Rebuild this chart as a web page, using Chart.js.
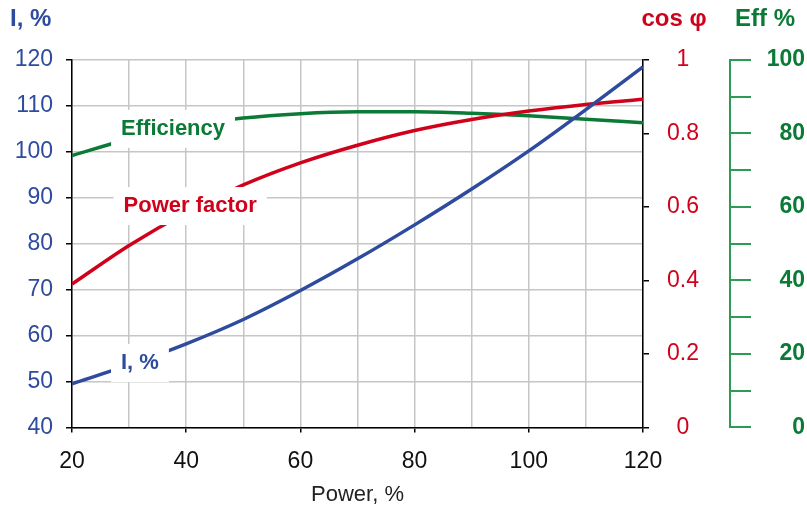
<!DOCTYPE html>
<html>
<head>
<meta charset="utf-8">
<script src="https://cdn.jsdelivr.net/npm/chart.js@4.4.1/dist/chart.umd.min.js"></script>
<style>
  html, body { margin: 0; padding: 0; background: #fff; }
  #wrap { width: 807px; height: 512px; }
</style>
</head>
<body>
<div id="wrap"><canvas id="motorChart" width="807" height="512"></canvas></div>
<script>
// load points, % of rated power
const power = [20, 30, 40, 50, 60, 70, 80, 90, 100, 110, 120];
// current, % of rated (left axis)
const current = [49.5, 53.6, 58.2, 63.5, 69.8, 76.7, 84.1, 91.9, 100.2, 109.2, 118.5];
// power factor cos phi (first right axis)
const powerFactor = [0.39, 0.495, 0.585, 0.66, 0.72, 0.768, 0.808, 0.838, 0.861, 0.879, 0.893];
// efficiency, % (second right axis)
const efficiency = [74, 78.5, 82, 84.2, 85.4, 85.9, 85.9, 85.5, 84.8, 83.9, 82.9];

const BLUE = "#2E4B9E";
const RED = "#D0021B";
const GREEN = "#0B7A36";
const FONT = "Arial, 'Liberation Sans', sans-serif";

// in-chart curve labels, anchored in data units (x: power, y: left axis value)
const curveLabels = [
  { text: "Efficiency", x: 37.7, y: 105, color: GREEN },
  { text: "Power factor", x: 40.7, y: 88.2, color: RED },
  { text: "I, %", x: 31.9, y: 54, color: BLUE },
];

function pts(values) {
  return power.map((p, i) => ({ x: p, y: values[i] }));
}

const labelPlugin = {
  id: "curveLabels",
  afterDatasetsDraw(chart) {
    const ctx = chart.ctx;
    const xs = chart.scales.x;
    const ys = chart.scales.y;
    ctx.save();
    ctx.font = "bold 22px " + FONT;
    ctx.textAlign = "center";
    ctx.textBaseline = "middle";
    curveLabels.forEach((l) => {
      const px = xs.getPixelForValue(l.x);
      const py = ys.getPixelForValue(l.y);
      const w = ctx.measureText(l.text).width + 20;
      const h = 38;
      ctx.fillStyle = "#fff";
      ctx.fillRect(px - w / 2, py - h / 2, w, h);
      ctx.fillStyle = l.color;
      ctx.fillText(l.text, px, py);
    });
    ctx.restore();
  },
  afterDraw(chart) {
    const ctx = chart.ctx;
    const area = chart.chartArea;
    const cos = chart.scales.cos;
    const eff = chart.scales.eff;
    ctx.save();
    ctx.font = "bold 24px " + FONT;
    ctx.textBaseline = "middle";
    ctx.textAlign = "left";
    ctx.fillStyle = BLUE;
    ctx.fillText("I, %", 10, 19);
    ctx.fillStyle = RED;
    ctx.textAlign = "center";
    ctx.fillText("cos φ", cos.left + 31, 19);
    ctx.fillStyle = GREEN;
    ctx.fillText("Eff %", eff.left + 35, 19);
    // x axis title
    ctx.font = "22px " + FONT;
    ctx.fillStyle = "#222";
    ctx.fillText("Power, %", (area.left + area.right) / 2, area.bottom + 68);
    ctx.restore();
  },
};

new Chart(document.getElementById("motorChart").getContext("2d"), {
  type: "line",
  data: {
    datasets: [
      {
        label: "I, %",
        data: pts(current),
        borderColor: BLUE,
        yAxisID: "y",
      },
      {
        label: "Power factor",
        data: pts(powerFactor),
        borderColor: RED,
        yAxisID: "cos",
      },
      {
        label: "Efficiency",
        data: pts(efficiency),
        borderColor: GREEN,
        yAxisID: "eff",
      },
    ],
  },
  options: {
    responsive: false,
    animation: false,
    devicePixelRatio: 1,
    layout: { padding: { top: 60, right: 2, left: 0, bottom: 22 } },
    elements: {
      point: { radius: 0 },
      line: { borderWidth: 3.5, tension: 0.4, cubicInterpolationMode: "monotone" },
    },
    plugins: {
      legend: { display: false },
      tooltip: { enabled: false },
    },
    scales: {
      x: {
        type: "linear",
        min: 20,
        max: 120,
        ticks: {
          stepSize: 10,
          color: "#111",
          font: { family: FONT, size: 23 },
          padding: 15,
          maxRotation: 0,
          autoSkip: false,
          callback: (v) => (v % 20 === 0 ? v : ""),
        },
        grid: {
          color: "#C6C6C6",
          lineWidth: 1.5,
          tickLength: 5,
          tickColor: (c) => (c.tick && c.tick.value % 20 === 0 ? "#000" : "rgba(0,0,0,0)"),
        },
        border: { color: "#000", width: 1.5 },
      },
      y: {
        position: "left",
        min: 40,
        max: 120,
        ticks: {
          stepSize: 10,
          color: BLUE,
          font: { family: FONT, size: 23 },
          padding: 13,
        },
        grid: { color: "#C6C6C6", lineWidth: 1.5, tickLength: 6, tickColor: "#000" },
        border: { color: "#000", width: 1.5 },
        afterFit: (s) => { s.width = 72; },
      },
      cos: {
        position: "right",
        min: 0,
        max: 1,
        weight: 1,
        ticks: {
          stepSize: 0.2,
          color: RED,
          font: { family: FONT, size: 23 },
          padding: 18,
          crossAlign: "center",
          callback: (v) => (v === 0 || v === 1 ? String(v) : v.toFixed(1)),
        },
        grid: { drawOnChartArea: false, tickLength: 6, color: "#000", lineWidth: 1.5 },
        border: { color: "#000", width: 1.5 },
        afterFit: (s) => { s.width = 87; },
      },
      eff: {
        position: "right",
        min: 0,
        max: 100,
        weight: 2,
        ticks: {
          stepSize: 10,
          color: GREEN,
          font: { family: FONT, size: 23, weight: "bold" },
          padding: 14,
          crossAlign: "far",
          callback: (v) => (v % 20 === 0 ? v : ""),
        },
        grid: { drawOnChartArea: false, tickLength: 21, color: "#2E9A55", lineWidth: 2 },
        border: { color: "#2E9A55", width: 2 },
        afterFit: (s) => { s.width = 75; },
      },
    },
  },
  plugins: [labelPlugin],
});
</script>
</body>
</html>
